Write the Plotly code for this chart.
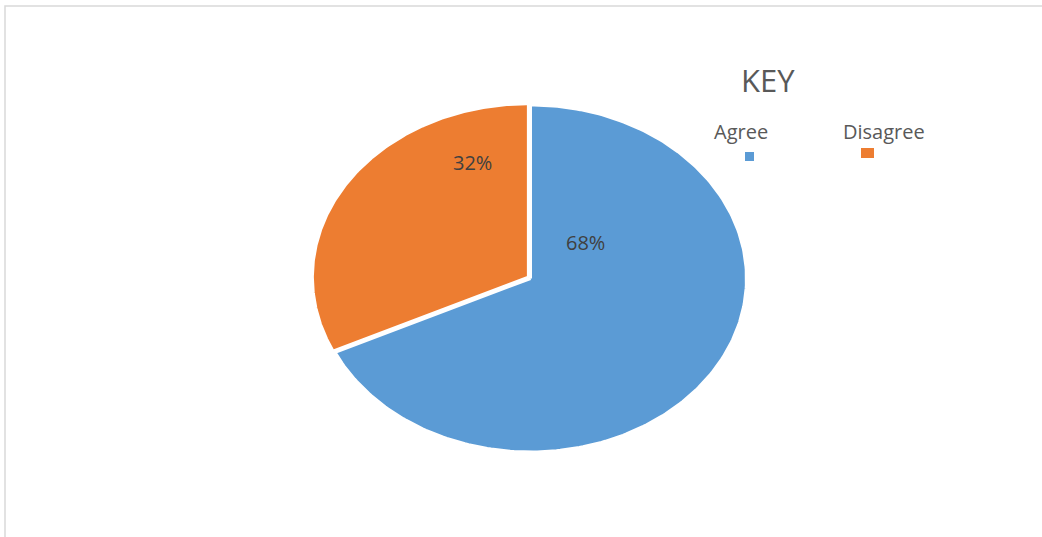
import numpy as np
import plotly.graph_objects as go

# Survey response shares
categories = ["Agree", "Disagree"]
values = [68, 32]
colors = ["#5B9BD5", "#ED7D31"]

W, H = 1042, 537
CX, CY = 530.5, 278.5      # ellipse centre (px)
RX, RY = 216.0, 173.5      # ellipse radii (px)
EXPLODE = [0.0, 2.5]       # slice offset along its bisector (px)

fig = go.Figure()

total = float(sum(values))
# Agree runs clockwise from 12 o'clock, Disagree counter-clockwise
start = np.pi / 2
label_pos = [(585, 242), (472, 162)]
for i, (cat, val, col) in enumerate(zip(categories, values, colors)):
    sweep = 2 * np.pi * val / total
    direction = -1 if i == 0 else 1
    t = start + direction * np.linspace(0, sweep, 240)
    mid = start + direction * sweep / 2
    ox = EXPLODE[i] * np.cos(mid)
    oy = -EXPLODE[i] * np.sin(mid)
    xs = np.concatenate([[CX], CX + RX * np.cos(t), [CX]]) + ox
    ys = np.concatenate([[CY], CY - RY * np.sin(t), [CY]]) + oy
    fig.add_trace(go.Scatter(
        x=xs, y=ys, mode="lines", fill="toself", fillcolor=col,
        line=dict(color="white", width=3), hoverinfo="text",
        text=f"{cat}: {val}%", showlegend=False,
    ))
    lx, ly = label_pos[i]
    fig.add_annotation(x=lx, y=ly, text=f"{val}%", showarrow=False,
                       font=dict(family="Open Sans", size=20, color="#404040"),
                       xanchor="center", yanchor="middle")

# Key
fig.add_annotation(x=768, y=80, text="KEY", showarrow=False,
                   font=dict(family="Open Sans", size=31, color="#595959"),
                   xanchor="center", yanchor="middle")
key_text = [(740.5, 131), (884, 131)]
key_box = [(745, 152, 754, 161), (861, 148, 874, 158)]
for cat, col, (tx, ty), (x0, y0, x1, y1) in zip(categories, colors, key_text, key_box):
    fig.add_annotation(x=tx, y=ty, text=cat, showarrow=False,
                       font=dict(family="Open Sans", size=20, color="#595959"),
                       xanchor="center", yanchor="middle")
    fig.add_shape(type="rect", x0=x0, y0=y0, x1=x1, y1=y1,
                  fillcolor=col, line=dict(width=0), layer="above")

# Chart area border
fig.add_shape(type="rect", x0=5, y0=6, x1=W + 20, y1=H + 20,
              line=dict(color="#D9D9D9", width=1.5), layer="below")

fig.update_layout(
    width=W, height=H,
    margin=dict(l=0, r=0, t=0, b=0),
    paper_bgcolor="white", plot_bgcolor="white",
    xaxis=dict(range=[0, W], visible=False, fixedrange=True),
    yaxis=dict(range=[H, 0], visible=False, fixedrange=True),
    showlegend=False,
)

fig.write_html("out.html", config={"displayModeBar": False})
